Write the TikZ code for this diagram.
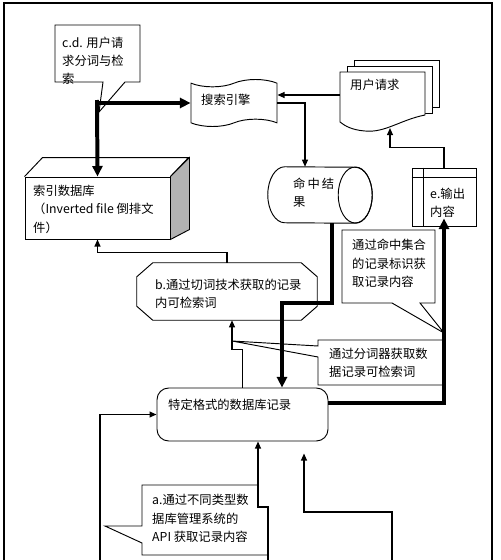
\documentclass[tikz,border=0pt]{standalone}
\usepackage{fontspec}
\setmainfont{Noto Sans CJK SC}
\usetikzlibrary{arrows.meta, shapes.geometric, shapes.symbols}

\tikzset{
  box/.style={draw, line width=0.8pt},
  txt/.style={anchor=base west, align=left, inner sep=0pt, font=\fontsize{10.5}{15.6}\selectfont},
  arr/.style={line width=1.1pt, -{Triangle[length=6pt,width=5pt]}},
  fat/.style={line width=3.4pt, -{Triangle[length=9pt,width=8.5pt]}},
}

\begin{document}
\begin{tikzpicture}[x=0.03cm, y=-0.03cm]
\useasboundingbox (0,0) rectangle (500,560);
% outer frame
\draw[line width=1.2pt] (4,560) -- (4,3) -- (492,3) -- (492,560);

% search engine, request, hit set, output
\node[box, tape, minimum width=2.58cm, minimum height=1.41cm, tape bend height=0.22cm] (se) at (234,103) {};
\draw[box, fill=white] (354,60) rectangle (439,107);
\draw[box, fill=white] (347,66) rectangle (432,113);
\node[minimum width=2.55cm, minimum height=1.38cm] (req) at (382.5,95) {};
\draw[box, fill=white] (340,122) -- (340,72) -- (425,72) -- (425,115)
  .. controls (400,120) and (385,133) .. (365,131)
  .. controls (352,130) and (345,126) .. (340,122);
\coordinate (reqin) at (390,128);
\node[minimum width=3.12cm, minimum height=1.68cm] (hit) at (320,195) {};
\draw[box] ([shift={(17,0)}]hit.north west)
  arc[start angle=90, end angle=270, x radius=0.51cm, y radius=0.84cm]
  -- ([shift={(-17,0)}]hit.south east)
  arc[start angle=270, end angle=450, x radius=0.51cm, y radius=0.84cm] -- cycle;
\draw[box] ([shift={(-17,0)}]hit.east) ellipse[x radius=0.51cm, y radius=0.84cm];
\node[box, minimum width=1.92cm, minimum height=1.74cm] (out) at (444,197) {};
\draw[box] ([shift={(12,0)}]out.north west) -- ([shift={(12,0)}]out.south west);
\draw[box] ([shift={(0,10)}]out.north west) -- ([shift={(0,10)}]out.north east);

% index database (box)
\node[box, fill=white, minimum width=4.35cm, minimum height=1.86cm] (idx) at (97.5,208) {};
\draw[box] (idx.north west) -- ++(18,-19) -- ++(146,0) -- (idx.north east);
\filldraw[box, fill=gray!60] (idx.north east) -- ++(19,-19) -- ++(0,72) -- (idx.south east) -- cycle;

% b and records
\node[minimum width=5.4cm, minimum height=1.71cm] (b) at (227,291.5) {};
\draw[box] ([shift={(16,0)}]b.north west) -- ([shift={(-16,0)}]b.north east)
  -- ([shift={(0,14)}]b.north east) -- ([shift={(0,-14)}]b.south east)
  -- ([shift={(-16,0)}]b.south east) -- ([shift={(16,0)}]b.south west)
  -- ([shift={(0,-14)}]b.south west) -- ([shift={(0,14)}]b.north west) -- cycle;
\node[box, rounded corners=0.35cm, minimum width=5.13cm, minimum height=1.59cm] (spec) at (242.5,414.5) {};

% callouts
\draw[box, fill=white] (55,25) -- (140,25) -- (140,82) -- (125,82) -- (99,112) -- (103,82) -- (55,82) -- cycle;
\draw[box, fill=white] (342,230) -- (435,230) -- (435,303) -- (420,303) -- (444,333) -- (392,303) -- (342,303) -- cycle;
\draw[box, fill=white] (318,340) -- (444,340) -- (444,385) -- (318,385) -- (318,357) -- (232,341) -- (318,346) -- cycle;
\draw[box, fill=white] (142,485) -- (258,485) -- (258,507) -- (268,507) -- (268,555) -- (142,555) -- (142,543) -- (105,526) -- (142,526) -- cycle;

% texts (base = last line)
\node[txt] (cdtxt) at (62,83.6) {c.d. 用户请\\求分词与检\\索};
\node[txt] (setxt) at (201,104.5) {搜索引擎};
\node[txt] (reqtxt) at (350,89.5) {用户请求};
\node[txt] (idxtxt) at (33,232) {索引数据库\\（Inverted file 倒排文\\件）};
\node[txt] (hittxt) at (293,206.5) {命\,中\,结\\果};
\node[txt] (outtxt) at (430,216.5) {e.输出\\内容};
\node[txt] (callhittxt) at (352,286.5) {通过命中集合\\的记录标识获\\取记录内容};
\node[txt] (btxt) at (155,307.5) {b.通过切词技术获取的记录\\内可检索词};
\node[txt] (callsegtxt) at (329,376.5) {通过分词器获取数\\据记录可检索词};
\node[txt] (spectxt) at (168,409.5) {特定格式的数据库记录};
\node[txt] (callatxt) at (152,541.5) {a.通过不同类型数\\据库管理系统的\\API 获取记录内容};

% thin connectors
\draw[arr] (req.west) -- (se.east |- req.west);
\draw[arr] (se.east) -| ([shift={(-15,0)}]hit.north);
\draw[arr] (out.north) -- ++(0,-20) -| (reqin);
\draw[arr] (b.north) -- ++(0,-10) -| (idx.south);
\draw[arr] (spec.north) -- ++(0,-38) -| ([shift={(5,0)}]b.south);
\coordinate (srcl) at (100,560);
\coordinate (srcm) at (268,560);
\coordinate (srcr) at (392,560);
\draw[arr] (srcl) |- (spec.west);
\draw[arr] (srcm) -- ++(0,-53) -| ([shift={(15.5,0)}]spec.south);
\draw[arr] (srcr) -- ++(0,-48) -| ([shift={(61.5,12)}]spec.south);

% thick connectors
\coordinate (cdjoint) at (97,103);
\draw[fat] ([shift={(0,-3)}]cdjoint) -- (idx.north);
\draw[fat] (cdjoint) -- (se.west);
\draw[fat] ([shift={(12,0)}]hit.south) -- ++(0,80) -| ([shift={(39.5,0)}]spec.north);
\draw[fat] ([shift={(0,-11.5)}]spec.east) -| ([shift={(0,-8)}]out.south);
\end{tikzpicture}
\end{document}
